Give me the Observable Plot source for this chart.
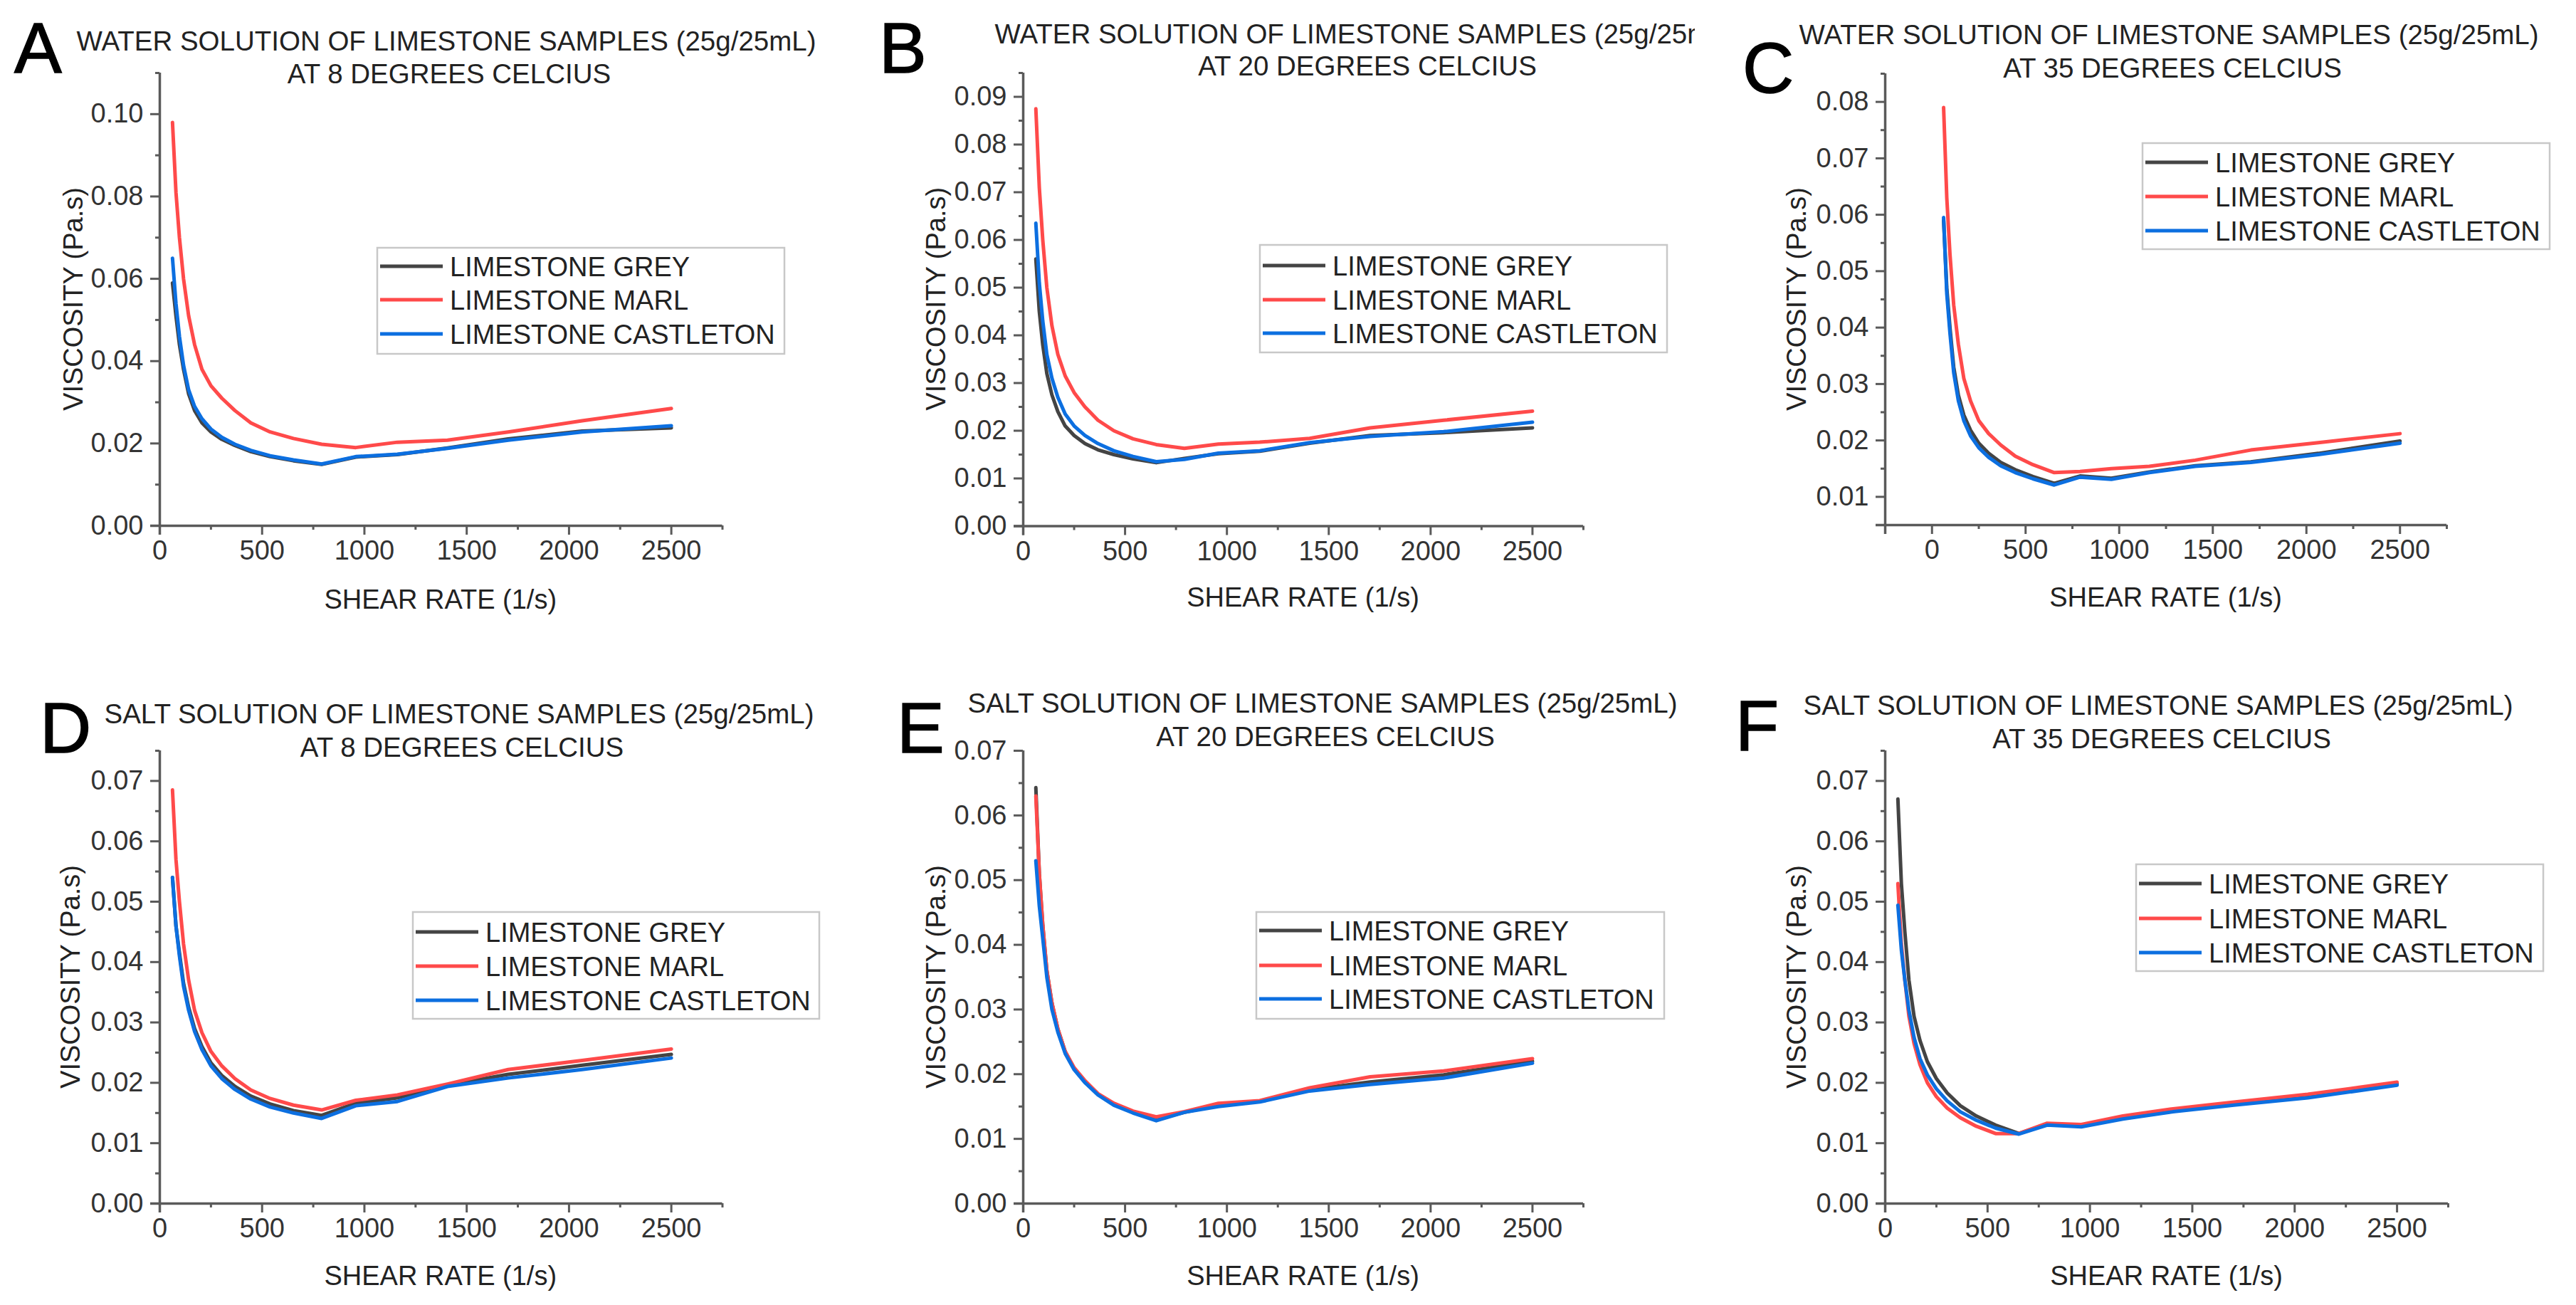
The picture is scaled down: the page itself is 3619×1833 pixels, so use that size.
<!DOCTYPE html>
<html>
<head>
<meta charset="utf-8">
<script src="https://cdn.jsdelivr.net/npm/d3@7"></script>
<script src="https://cdn.jsdelivr.net/npm/@observablehq/plot@0.6"></script>
<style>
  html, body { margin: 0; padding: 0; background: #fff; }
  #root { position: relative; width: 3619px; height: 1833px; background: #fff; overflow: hidden; }
  #root svg { position: absolute; overflow: visible; }
</style>
</head>
<body>
<div id="root"></div>
<script>
// ---------- DATA ----------
const shearRate = [62, 79, 96, 116, 141, 170, 206, 250, 303, 367, 445, 539, 653, 791, 958, 1161, 1406, 1703, 2064, 2500];
const seriesNames = ["LIMESTONE GREY", "LIMESTONE MARL", "LIMESTONE CASTLETON"];

// A: water, 8 C
const w8Grey      = [0.059, 0.051, 0.044, 0.038, 0.032, 0.028, 0.025, 0.0228, 0.0210, 0.0195, 0.0180, 0.0168, 0.0158, 0.0149, 0.0167, 0.0173, 0.0189, 0.0211, 0.0230, 0.0238];
const w8Marl      = [0.098, 0.081, 0.070, 0.060, 0.051, 0.044, 0.038, 0.034, 0.031, 0.028, 0.0250, 0.0228, 0.0212, 0.0198, 0.0190, 0.0203, 0.0208, 0.0228, 0.0255, 0.0285];
const w8Castleton = [0.065, 0.054, 0.046, 0.039, 0.033, 0.029, 0.026, 0.0235, 0.0215, 0.0198, 0.0183, 0.0170, 0.0160, 0.0150, 0.0168, 0.0174, 0.0188, 0.0208, 0.0228, 0.0243];
// B: water, 20 C
const w20Grey      = [0.056, 0.045, 0.038, 0.032, 0.0275, 0.024, 0.021, 0.0190, 0.0173, 0.0160, 0.0150, 0.0141, 0.0133, 0.0142, 0.0152, 0.0157, 0.0174, 0.0190, 0.0196, 0.0206];
const w20Marl      = [0.0875, 0.071, 0.060, 0.050, 0.042, 0.036, 0.0315, 0.0280, 0.0250, 0.0222, 0.0200, 0.0183, 0.0171, 0.0163, 0.0172, 0.0176, 0.0184, 0.0206, 0.0222, 0.0241];
const w20Castleton = [0.0635, 0.051, 0.043, 0.036, 0.031, 0.027, 0.0235, 0.0210, 0.0190, 0.0173, 0.0158, 0.0146, 0.0135, 0.0140, 0.0153, 0.0158, 0.0175, 0.0188, 0.0198, 0.0218];
// C: water, 35 C
const w35Grey      = [0.059, 0.047, 0.040, 0.033, 0.028, 0.0245, 0.0218, 0.0195, 0.0177, 0.0161, 0.0148, 0.0136, 0.0124, 0.0137, 0.0133, 0.0144, 0.0155, 0.0162, 0.0177, 0.0199];
const w35Marl      = [0.079, 0.063, 0.053, 0.044, 0.037, 0.031, 0.027, 0.0235, 0.0212, 0.0192, 0.0172, 0.0157, 0.0143, 0.0145, 0.0150, 0.0154, 0.0165, 0.0183, 0.0196, 0.0212];
const w35Castleton = [0.0595, 0.046, 0.039, 0.032, 0.027, 0.0235, 0.0208, 0.0187, 0.0170, 0.0155, 0.0143, 0.0132, 0.0121, 0.0135, 0.0131, 0.0143, 0.0154, 0.0161, 0.0175, 0.0195];
// D: salt, 8 C
const s8Grey      = [0.054, 0.046, 0.0415, 0.0365, 0.0325, 0.029, 0.026, 0.0233, 0.0212, 0.0194, 0.0178, 0.0165, 0.0154, 0.0146, 0.0166, 0.0175, 0.0196, 0.0214, 0.0229, 0.0247];
const s8Marl      = [0.0685, 0.057, 0.050, 0.043, 0.037, 0.032, 0.0283, 0.0252, 0.0228, 0.0207, 0.0188, 0.0174, 0.0163, 0.0155, 0.0171, 0.0180, 0.0198, 0.0222, 0.0237, 0.0256];
const s8Castleton = [0.054, 0.046, 0.041, 0.036, 0.032, 0.0285, 0.0255, 0.0228, 0.0207, 0.0189, 0.0173, 0.0160, 0.0150, 0.0141, 0.0162, 0.0169, 0.0194, 0.0208, 0.0222, 0.0241];
// E: salt, 20 C
const s20Grey      = [0.0643, 0.051, 0.043, 0.036, 0.031, 0.027, 0.0235, 0.0209, 0.0189, 0.0169, 0.0153, 0.0141, 0.0130, 0.0141, 0.0152, 0.0158, 0.0176, 0.0188, 0.0199, 0.0220];
const s20Marl      = [0.063, 0.051, 0.043, 0.036, 0.031, 0.027, 0.0235, 0.0210, 0.0190, 0.0170, 0.0155, 0.0143, 0.0134, 0.0142, 0.0155, 0.0159, 0.0179, 0.0196, 0.0205, 0.0224];
const s20Castleton = [0.053, 0.046, 0.041, 0.035, 0.030, 0.0265, 0.0232, 0.0207, 0.0187, 0.0168, 0.0152, 0.0140, 0.0128, 0.0141, 0.0150, 0.0157, 0.0174, 0.0184, 0.0194, 0.0217];
// F: salt, 35 C
const s35Grey      = [0.067, 0.053, 0.045, 0.037, 0.031, 0.027, 0.0235, 0.0207, 0.0183, 0.0162, 0.0145, 0.0130, 0.0116, 0.0132, 0.0129, 0.0141, 0.0153, 0.0166, 0.0178, 0.0198];
const s35Marl      = [0.053, 0.043, 0.037, 0.031, 0.0265, 0.023, 0.020, 0.0177, 0.0158, 0.0142, 0.0128, 0.0116, 0.0116, 0.0133, 0.0131, 0.0145, 0.0157, 0.0168, 0.0181, 0.0201];
const s35Castleton = [0.0494, 0.042, 0.037, 0.032, 0.0275, 0.024, 0.0213, 0.0190, 0.0170, 0.0152, 0.0138, 0.0125, 0.0115, 0.0130, 0.0127, 0.0140, 0.0152, 0.0163, 0.0175, 0.0196];

// tick values
const xTicks = [0, 500, 1000, 1500, 2000, 2500];
const xMinor = [250, 750, 1250, 1750, 2250, 2750];
const xMinorC = [-250, 250, 750, 1250, 1750, 2250, 2750];
const yTicksA = [0, 0.02, 0.04, 0.06, 0.08, 0.10];
const yMinorA = [0.01, 0.03, 0.05, 0.07, 0.09, 0.11];
const yTicksB = [0, 0.01, 0.02, 0.03, 0.04, 0.05, 0.06, 0.07, 0.08, 0.09];
const yMinorB = [0.005, 0.015, 0.025, 0.035, 0.045, 0.055, 0.065, 0.075, 0.085, 0.095];
const yTicksC = [0.01, 0.02, 0.03, 0.04, 0.05, 0.06, 0.07, 0.08];
const yMinorC = [0.005, 0.015, 0.025, 0.035, 0.045, 0.055, 0.065, 0.075, 0.085];
const yTicksD = [0, 0.01, 0.02, 0.03, 0.04, 0.05, 0.06, 0.07];
const yMinorD = [0.005, 0.015, 0.025, 0.035, 0.045, 0.055, 0.065, 0.075];
const yMinorE = [0.005, 0.015, 0.025, 0.035, 0.045, 0.055, 0.065];

const titleWater = "WATER SOLUTION OF LIMESTONE SAMPLES (25g/25mL)";
const titleSalt = "SALT SOLUTION OF LIMESTONE SAMPLES (25g/25mL)";
const xLabel = "SHEAR RATE (1/s)";
const yLabel = "VISCOSITY (Pa.s)";

// ---------- STYLE / LAYOUT ----------
const seriesColors = ["#444444", "#ff4a4a", "#0c6fe0"];
const FONT = "'Liberation Sans', Arial, Helvetica, sans-serif";
const AXIS = "#5a5a5a";

const panels = [
  { letter: "A", lx: 20, ly: 102, t1: titleWater, t2: "AT 8 DEGREES CELCIUS", t1x: 627, t1y: 71, t2x: 631, t2y: 117, clip: null,
    series: [w8Grey, w8Marl, w8Castleton], xDomain: [0, 2750], yDomain: [0, 0.11], yTicks: yTicksA, yMinor: yMinorA, xMinor: xMinor,
    x0: 223.5, x1: 1014, yTop: 102, yBot: 738, legend: [530, 348, 1102, 497], legY: [374, 421, 469], xlY: 855, ylX: 116 },
  { letter: "B", lx: 1235, ly: 102, t1: titleWater, t2: "AT 20 DEGREES CELCIUS", t1x: 1917, t1y: 61, t2x: 1921, t2y: 106, clip: 2381,
    series: [w20Grey, w20Marl, w20Castleton], xDomain: [0, 2750], yDomain: [0, 0.095], yTicks: yTicksB, yMinor: yMinorB, xMinor: xMinor,
    x0: 1437, x1: 2224, yTop: 101.5, yBot: 738, legend: [1770, 344, 2342, 495], legY: [373, 421, 468], xlY: 852, ylX: 1328 },
  { letter: "C", lx: 2448, ly: 130, t1: titleWater, t2: "AT 35 DEGREES CELCIUS", t1x: 3047, t1y: 62, t2x: 3052, t2y: 109, clip: null,
    series: [w35Grey, w35Marl, w35Castleton], xDomain: [-250, 2750], yDomain: [0.005, 0.085], yTicks: yTicksC, yMinor: yMinorC, xMinor: xMinorC,
    x0: 2648, x1: 3437, yTop: 103, yBot: 737, legend: [3010, 201, 3582, 350], legY: [228, 276, 324], xlY: 852, ylX: 2537 },
  { letter: "D", lx: 56, ly: 1057, t1: titleSalt, t2: "AT 8 DEGREES CELCIUS", t1x: 645, t1y: 1016, t2x: 649, t2y: 1063, clip: null,
    series: [s8Grey, s8Marl, s8Castleton], xDomain: [0, 2750], yDomain: [0, 0.075], yTicks: yTicksD, yMinor: yMinorD, xMinor: xMinor,
    x0: 223.5, x1: 1014, yTop: 1054, yBot: 1690, legend: [580, 1281, 1151, 1431], legY: [1309, 1357, 1405], xlY: 1805, ylX: 112 },
  { letter: "E", lx: 1260, ly: 1057, t1: titleSalt, t2: "AT 20 DEGREES CELCIUS", t1x: 1858, t1y: 1001, t2x: 1862, t2y: 1048, clip: null,
    series: [s20Grey, s20Marl, s20Castleton], xDomain: [0, 2750], yDomain: [0, 0.07], yTicks: yTicksD, yMinor: yMinorE, xMinor: xMinor,
    x0: 1437, x1: 2224, yTop: 1054, yBot: 1690, legend: [1765, 1281, 2338, 1431], legY: [1307, 1356, 1403], xlY: 1805, ylX: 1328 },
  { letter: "F", lx: 2438, ly: 1054, t1: titleSalt, t2: "AT 35 DEGREES CELCIUS", t1x: 3032, t1y: 1004, t2x: 3037, t2y: 1051, clip: null,
    series: [s35Grey, s35Marl, s35Castleton], xDomain: [0, 2750], yDomain: [0, 0.075], yTicks: yTicksD, yMinor: yMinorD, xMinor: xMinor,
    x0: 2648, x1: 3439, yTop: 1054, yBot: 1690, legend: [3001, 1214, 3573, 1364], legY: [1241, 1290, 1338], xlY: 1805, ylX: 2537 }
];

const root = document.getElementById("root");
const ML = 150, MR = 30, MT = 12, MB = 90;
const fmtY = d3.format(".2f");

for (const p of panels) {
  const rows = [];
  p.series.forEach((vals, si) => {
    vals.forEach((v, i) => rows.push({ x: shearRate[i], y: v, series: seriesNames[si] }));
  });
  const plot = Plot.plot({
    width: (p.x1 - p.x0) + ML + MR,
    height: (p.yBot - p.yTop) + MT + MB,
    marginLeft: ML, marginRight: MR, marginTop: MT, marginBottom: MB,
    style: { fontFamily: FONT, fontSize: "38px", color: "#333", background: "transparent", overflow: "visible" },
    x: { domain: p.xDomain },
    y: { domain: p.yDomain },
    color: { domain: seriesNames, range: seriesColors },
    marks: [
      Plot.axisX({ ticks: p.xMinor, tickSize: 6, tickFormat: () => "", stroke: AXIS, strokeWidth: 3, label: null }),
      Plot.axisY({ ticks: p.yMinor, tickSize: 6, tickFormat: () => "", stroke: AXIS, strokeWidth: 3, label: null }),
      Plot.axisX({ ticks: xTicks, tickSize: 13, tickPadding: 8, tickFormat: d => String(d), stroke: AXIS, strokeWidth: 3, fill: "#333", fontSize: 38, label: null }),
      Plot.axisY({ ticks: p.yTicks, tickSize: 13, tickPadding: 10, tickFormat: fmtY, stroke: AXIS, strokeWidth: 3, fill: "#333", fontSize: 38, label: null }),
      Plot.ruleX([p.xDomain[0]], { stroke: AXIS, strokeWidth: 3.5, insetBottom: -13 }),
      Plot.ruleY([p.yDomain[0]], { stroke: AXIS, strokeWidth: 3.5, insetLeft: -13 }),
      Plot.line(rows, { x: "x", y: "y", z: "series", stroke: "series", strokeWidth: 5, strokeLinejoin: "round" })
    ]
  });
  plot.style.left = (p.x0 - ML) + "px";
  plot.style.top = (p.yTop - MT) + "px";
  root.appendChild(plot);
}

// ---------- overlay: titles, letters, axis titles, legends ----------
const ov = d3.select(root).append("svg")
  .attr("width", 3619).attr("height", 1833)
  .style("left", "0px").style("top", "0px")
  .style("font-family", FONT);

const defs = ov.append("defs");
defs.append("clipPath").attr("id", "clipB").append("rect")
  .attr("x", 1200).attr("y", 0).attr("width", 2381 - 1200).attr("height", 200);

panels.forEach((p) => {
  const g = ov.append("g");
  g.append("text").attr("x", p.lx).attr("y", p.ly)
    .attr("font-family", FONT).attr("font-weight", 400)
    .attr("font-size", 100).attr("fill", "#000")
    .attr("stroke", "#000").attr("stroke-width", 1.5).text(p.letter);
  const t1 = g.append("text").attr("x", p.t1x).attr("y", p.t1y).attr("text-anchor", "middle")
    .attr("font-size", 38.5).attr("fill", "#222").text(p.t1);
  if (p.clip) t1.attr("clip-path", "url(#clipB)");
  g.append("text").attr("x", p.t2x).attr("y", p.t2y).attr("text-anchor", "middle")
    .attr("font-size", 38.5).attr("fill", "#222").text(p.t2);
  // axis titles
  g.append("text").attr("x", (p.x0 + p.x1) / 2).attr("y", p.xlY).attr("text-anchor", "middle")
    .attr("font-size", 38).attr("fill", "#222").text(xLabel);
  g.append("text").attr("transform", `translate(${p.ylX},${(p.yTop + p.yBot) / 2}) rotate(-90)`)
    .attr("text-anchor", "middle").attr("font-size", 38).attr("fill", "#222").text(yLabel);
  // legend
  const [L, T, R, B] = p.legend;
  g.append("rect").attr("x", L).attr("y", T).attr("width", R - L).attr("height", B - T)
    .attr("fill", "#fff").attr("stroke", "#c8c8c8").attr("stroke-width", 2.5);
  seriesNames.forEach((name, i) => {
    const yy = p.legY[i];
    g.append("line").attr("x1", L + 4).attr("x2", L + 92).attr("y1", yy).attr("y2", yy)
      .attr("stroke", seriesColors[i]).attr("stroke-width", 5);
    g.append("text").attr("x", L + 102).attr("y", yy + 13.5)
      .attr("font-size", 38).attr("fill", "#222").text(name);
  });
});
</script>
</body>
</html>
